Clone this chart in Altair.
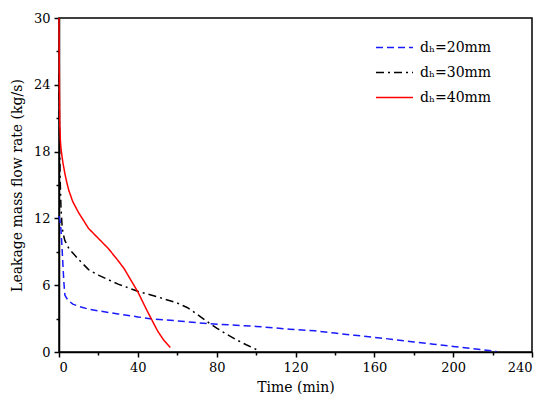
import altair as alt
import pandas as pd

# d_h = 20 mm (blue dashed)
t20 = [0, 0.5, 1, 1.5, 2, 2.5, 3, 4, 5, 7, 10, 15, 20, 25, 30, 40, 48, 60, 75, 90, 100, 117, 130, 140, 150, 160, 170, 180, 190, 200, 210, 215, 222]
v20 = [12.2, 11.8, 11, 9.5, 7.8, 6.2, 5.1, 4.8, 4.6, 4.3, 4.1, 3.85, 3.7, 3.55, 3.42, 3.15, 2.95, 2.8, 2.55, 2.4, 2.3, 2.05, 1.9, 1.7, 1.5, 1.32, 1.12, 0.9, 0.7, 0.5, 0.3, 0.2, 0.05]

# d_h = 30 mm (black dash-dot)
t30 = [0, 0.3, 0.6, 1, 1.5, 2, 3, 5, 7, 10, 15, 20, 25, 30, 40, 50, 60, 65, 70, 75, 80, 85, 90, 95, 101]
v30 = [25, 19, 15.5, 13, 11.5, 10.7, 10.0, 9.3, 8.9, 8.3, 7.4, 6.9, 6.5, 6.1, 5.45, 4.95, 4.4, 4.0, 3.4, 2.75, 2.15, 1.6, 1.1, 0.65, 0.15]

# d_h = 40 mm (red solid)
t40 = [0, 0.1, 0.2, 0.4, 0.7, 1, 1.5, 2, 3, 4, 5, 7, 10, 15, 20, 25, 30, 33, 36, 40, 45, 50, 53, 56.5]
v40 = [30, 27, 24, 20.5, 19, 18.3, 17.6, 17, 16, 15.2, 14.5, 13.5, 12.5, 11.1, 10.2, 9.3, 8.2, 7.5, 6.6, 5.4, 3.6, 1.9, 1.1, 0.4]

series = ["dₕ=20mm", "dₕ=30mm", "dₕ=40mm"]
colors = ["#1a1aff", "#000000", "#ff0000"]
dashes = [[7, 4], [8, 4, 2, 4], [1, 0]]

x_major = [0, 40, 80, 120, 160, 200, 240]
x_minor = [20, 60, 100, 140, 180, 220]
y_major = [0, 6, 12, 18, 24, 30]
y_minor = [3, 9, 15, 21, 27]

rows = []
for name, ts, vs in zip(series, [t20, t30, t40], [v20, v30, v40]):
    for i, (t, v) in enumerate(zip(ts, vs)):
        rows.append({"series": name, "t": t, "v": v, "order": i})
df = pd.DataFrame(rows)

FONT = "DejaVu Serif"

xscale = alt.Scale(domain=[0, 240], nice=False)
yscale = alt.Scale(domain=[0, 30], nice=False)

legend = alt.Legend(title=None, orient="none", legendX=316, legendY=17,
                    symbolType="stroke", symbolSize=1369,
                    symbolStrokeWidth=1.5, labelFont=FONT,
                    labelFontSize=14, labelColor="black",
                    labelOffset=6, rowPadding=0, clipHeight=25, padding=0)

lines = alt.Chart(df).mark_line(strokeWidth=1.5).encode(
    x=alt.X("t:Q", scale=xscale,
            axis=alt.Axis(values=x_major, title="Time (min)", orient="bottom",
                          tickSize=5, labelPadding=4, titlePadding=6)),
    y=alt.Y("v:Q", scale=yscale,
            axis=alt.Axis(values=y_major, title="Leakage mass flow rate (kg/s)", orient="left",
                          tickSize=5, labelPadding=4, titlePadding=9)),
    color=alt.Color("series:N", scale=alt.Scale(domain=series, range=colors), legend=legend),
    strokeDash=alt.StrokeDash("series:N", scale=alt.Scale(domain=series, range=dashes), legend=legend),
    order="order:Q",
)

minor = alt.Chart(df).mark_line(opacity=0).encode(
    x=alt.X("t:Q", scale=xscale,
            axis=alt.Axis(values=x_minor, labels=False, domain=False, tickSize=3,
                          title=None, orient="bottom")),
    y=alt.Y("v:Q", scale=yscale,
            axis=alt.Axis(values=y_minor, labels=False, domain=False, tickSize=3,
                          title=None, orient="left")),
    detail="series:N",
)

chart = alt.layer(lines, minor).resolve_axis(x="independent", y="independent").properties(
    width=473, height=334,
    autosize=alt.AutoSizeParams(type="none"),
    padding={"left": 51, "top": 10, "right": 10, "bottom": 45},
).configure(
    font=FONT
).configure_view(
    stroke="black", strokeWidth=1.5
).configure_axis(
    grid=False, domainColor="black", domainWidth=1.5, tickColor="black", tickWidth=1.5,
    labelFont=FONT, labelFontSize=13, labelColor="black",
    titleFont=FONT, titleFontSize=14, titleFontWeight="normal", titleColor="black",
)

chart.save("out.html", embed_options={"renderer": "svg", "actions": False})
